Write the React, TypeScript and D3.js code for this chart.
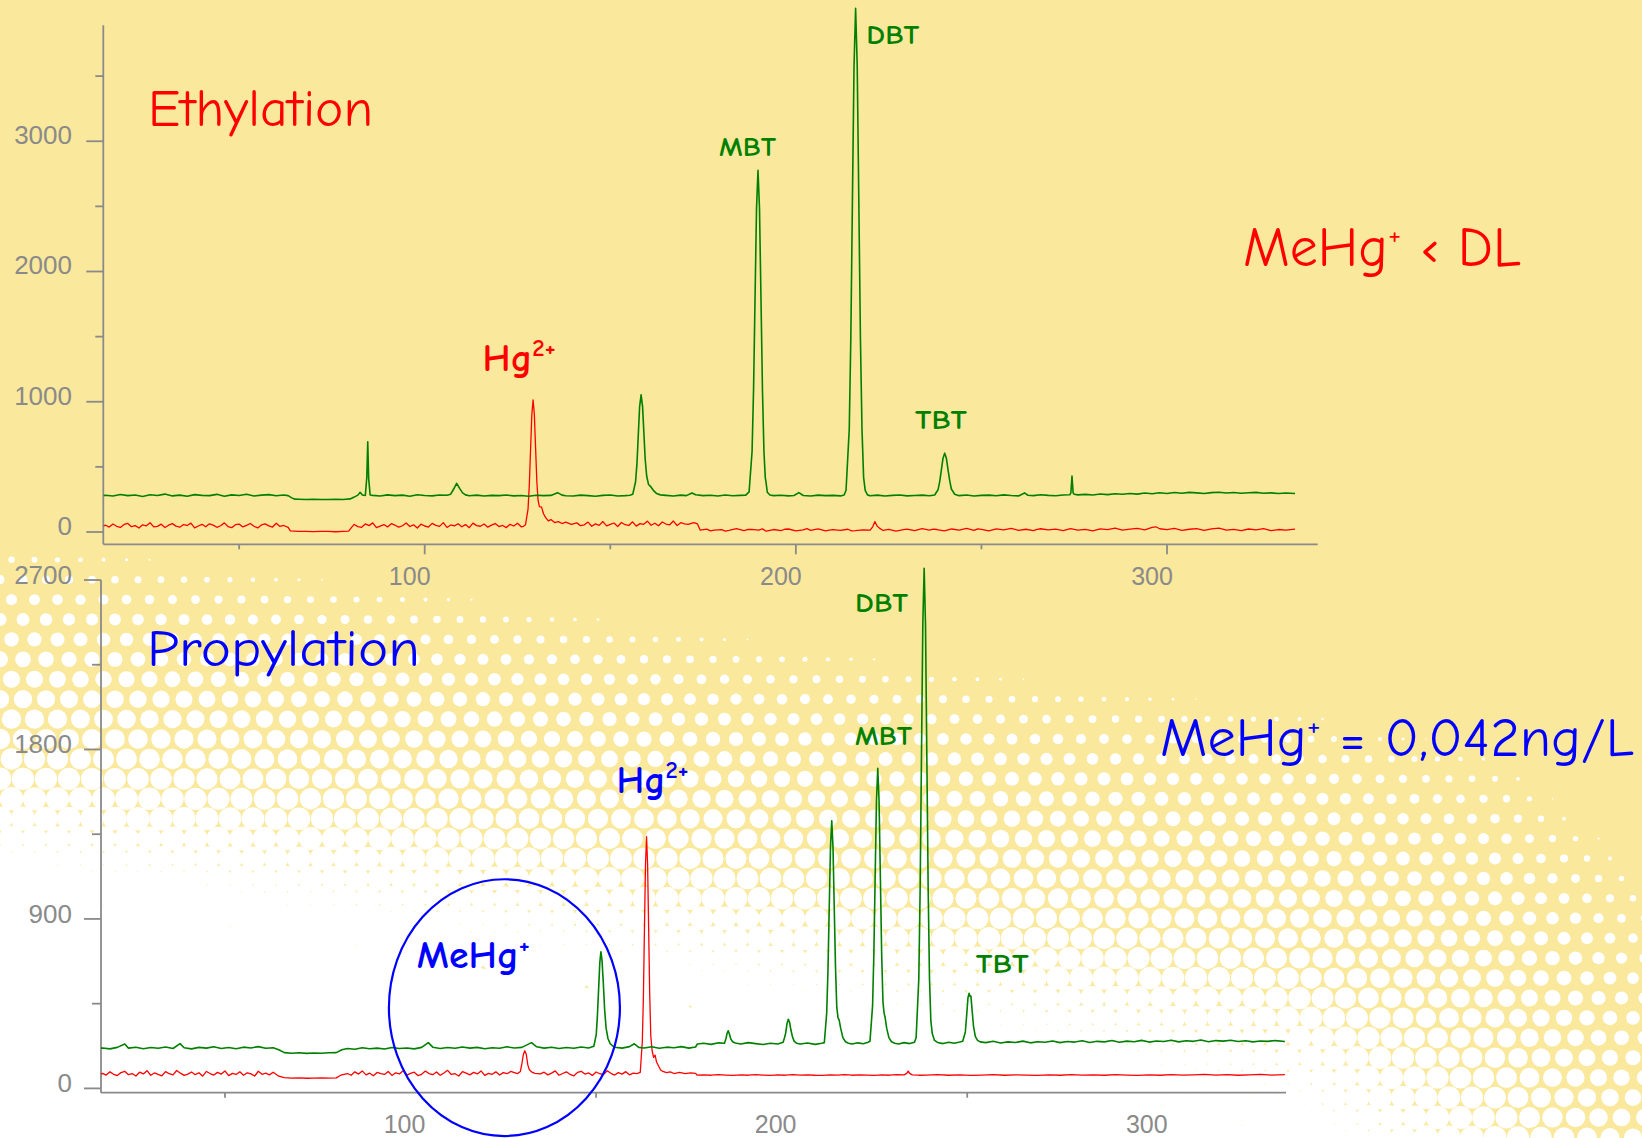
import React from 'react';
import * as d3 from 'd3';

const W = 1642;
const H = 1138;
const YELLOW = '#FAE89C';
const AXIS = '#8a8a8a';
const HAND = "'Comic Sans MS','Comic Neue','Noto Sans',sans-serif";
const SANS = "'Liberation Sans',Arial,sans-serif";

// ---------- Ethylation chromatogram (retention time, counts) ----------
const topGreen: [number, number][] = [
  [13.5,280],[14,282],[16,276],[18,288],[20,279],[22,284],[24,273],[26,286],[28,280],[30,291],[32,277],[34,283],[36,275],[38,287],[40,281],[42,279],[44,289],[46,274],[48,285],[50,280],[52,290],[54,276],[56,283],[58,287],[60,278],[62,284],[63.2,279],[64.2,262],[65,252],[66,251],[68,249],[70,251],[72,249],[74,250],[76,251],[78,250],[79.9,254],[81,268],[82,283],[82.6,305],[83.2,284],[84,281],[84.4,420],[84.65,692],[84.9,410],[85.3,284],[86,281],[88,276],[90,285],[92,279],[94,283],[96,274],[98,286],[100,280],[102,277],[104,284],[106,282],[107,290],[107.8,330],[108.6,374],[109.4,335],[110.2,300],[111,285],[112,278],[114,283],[116,276],[118,281],[120,279],[122,284],[124,277],[126,280],[128,275],[130,282],[132,279],[134,281],[135.8,302],[137,283],[138,278],[140,276],[142,283],[144,279],[146,275],[148,281],[150,284],[152,276],[154,279],[155.3,282],[156.05,289],[156.8,384],[157.2,531],[157.55,749],[157.9,962],[158.3,1053],[158.7,962],[159.05,760],[159.4,560],[159.8,430],[160.3,365],[160.9,348],[161.6,320],[162.5,295],[163.5,285],[165,281],[167,276],[169,283],[170.5,279],[172,300],[173,286],[175,279],[177,282],[179,276],[181,284],[183,278],[185,281],[186.5,283],[187.4,308],[188.2,618],[188.6,1091],[189,1794],[189.4,2484],[189.8,2777],[190.2,2484],[190.6,1794],[191,1091],[191.4,618],[191.75,420],[191.95,385],[192.3,305],[193,284],[194,279],[196,282],[198,277],[199.5,280],[200.8,302],[202,280],[204,276],[206,283],[208,279],[210,281],[212,277],[213,284],[213.52,321],[214.38,786],[214.81,1494],[215.24,2548],[215.67,3580],[216.1,4020],[216.53,3580],[216.96,2548],[217.39,1494],[217.82,786],[218.25,420],[218.68,320],[219.3,285],[220,278],[222,283],[224,276],[226,281],[228,284],[230,277],[232,280],[234,283],[236,278],[237.4,284],[238.3,324],[238.75,385],[239.2,477],[239.65,567],[240.1,605],[240.55,567],[241,477],[241.45,395],[241.9,330],[242.8,290],[244,279],[246,284],[248,276],[250,281],[252,283],[254,278],[256,285],[258,280],[260,277],[261.6,300],[262.5,282],[264,279],[266,286],[268,281],[270,278],[272,284],[273.8,286],[274.1,300],[274.4,430],[274.7,300],[275,290],[276,285],[278,289],[280,284],[282,292],[284,287],[286,294],[288,290],[290,296],[292,291],[294,299],[296,293],[298,301],[300,296],[302,303],[304,298],[306,304],[308,300],[310,296],[312,302],[314,305],[316,299],[318,303],[320,297],[322,301],[324,304],[326,298],[328,300],[330,295],[332,299],[334.5,296],
];

const topRed: [number, number][] = [
  [13.5,47],[14,52],[15,38],[16,61],[17,44],[18,35],[19,58],[20,66],[21,41],[22,49],[23,30],[24,55],[25,47],[26,71],[27,39],[28,43],[29,60],[30,34],[31,52],[32,64],[33,45],[34,37],[35,57],[36,50],[37,68],[38,32],[39,46],[40,59],[41,40],[42,63],[43,53],[44,36],[45,48],[46,70],[47,42],[48,33],[49,56],[50,61],[51,39],[52,51],[53,65],[54,44],[55,31],[56,54],[57,62],[58,47],[59,38],[60,67],[61,43],[62,50],[63.2,35],[63.8,8],[66,4],[68,5],[70,3],[72,5],[74,4],[76,2],[78,4],[79.5,6],[80.3,35],[81,58],[82,41],[83,36],[84,62],[85,49],[86,70],[87,33],[88,45],[89,57],[90,39],[91,64],[92,52],[93,37],[94,48],[95,69],[96,42],[97,55],[98,31],[99,60],[100,46],[101,38],[102,66],[103,51],[104,43],[105,72],[106,35],[107,54],[108,47],[109,63],[110,40],[111,57],[112,33],[113,68],[114,49],[115,44],[116,61],[117,37],[118,53],[119,65],[120,42],[121,50],[122,34],[123,59],[124,46],[125,67],[126,40],[126.6,44],[127.16,56],[127.84,176],[128.18,360],[128.52,633],[128.86,901],[129.2,1014],[129.54,901],[129.88,640],[130.22,380],[130.56,240],[130.9,195],[131.5,190],[132,140],[132.6,110],[133.3,85],[134,95],[135,72],[136,80],[137,65],[138,75],[139.5,58],[141,70],[142,48],[143,55],[144,76],[145,44],[146,62],[147,51],[148,80],[149,47],[150,58],[151,69],[152,42],[153,73],[154,56],[155,50],[156,78],[157,45],[158,64],[159,59],[160,83],[161,52],[162,67],[163,48],[164,77],[165,61],[166,55],[167,84],[168,50],[169,71],[170,63],[171,58],[172.5,72],[173.5,62],[174.2,15],[176,22],[177,9],[178,14],[180,18],[181,7],[182,12],[184,25],[186,10],[187,19],[188,20],[190,14],[191,24],[192,6],[194,19],[196,11],[197,21],[198,23],[200,9],[202,17],[203,26],[204,13],[206,24],[208,8],[209,15],[210,18],[212,12],[214,21],[215,8],[216,10],[218,16],[220,14],[220.7,40],[221.3,80],[221.9,45],[222.5,30],[223.5,12],[225,20],[227,7],[229,18],[230,22],[232,11],[234,25],[236,14],[237,22],[238,19],[240,8],[242,23],[244,15],[246,27],[248,12],[249,24],[250,20],[252,9],[254,24],[256,16],[258,28],[260,13],[262,21],[264,10],[265,20],[266,25],[268,17],[270,22],[272,11],[274,26],[276,15],[278,20],[280,9],[282,24],[284,18],[286,29],[288,14],[290,22],[292,27],[294,16],[296,35],[297,40],[298,25],[300,18],[302,28],[304,13],[306,21],[308,26],[310,12],[312,24],[314,30],[316,15],[318,20],[320,11],[322,23],[324,17],[326,26],[328,10],[330,19],[332,14],[334.5,22],
];

// ---------- Propylation chromatogram ----------
const botGreen: [number, number][] = [
  [16.6,214],[17,215],[19,210],[21,218],[23,236],[24,214],[26,219],[28,211],[30,217],[32,213],[34,220],[36,212],[37.9,238],[39,216],[41,210],[43,218],[45,214],[47,221],[49,212],[51,217],[53,211],[55,219],[57,215],[59,222],[61,213],[63,216],[64.5,205],[66,190],[68,187],[70,189],[72,186],[74,188],[76,187],[78,189],[80,190],[81.5,205],[83,212],[85,208],[87,216],[89,211],[91,214],[93,209],[95,217],[97,212],[99,215],[101,210],[103,218],[104.8,243],[106,219],[108,212],[110,217],[112,213],[114,220],[116,214],[118,218],[120,211],[122,216],[124,213],[126,221],[128,215],[130,218],[132.6,243],[134,221],[136,214],[138,219],[140,212],[142,217],[144,213],[146,220],[148,215],[149.4,224],[150.05,287],[150.35,383],[150.68,526],[151,666],[151.3,726],[151.6,680],[151.95,560],[152.3,420],[152.7,320],[153.2,265],[153.8,238],[154.5,225],[155,219],[157,214],[159,222],[160.3,237],[161.5,218],[163,215],[165,221],[167,213],[169,219],[171,216],[173,222],[175,214],[176.8,220],[177.3,236],[179,240],[181,234],[183,242],[184.6,240],[185,265],[185.3,292],[185.6,306],[185.9,290],[186.3,262],[186.8,248],[187.5,241],[189,236],[191,243],[193,238],[195,233],[197,240],[199,236],[200.4,245],[200.75,268],[201.1,295],[201.45,345],[201.8,367],[202.15,350],[202.5,310],[202.9,275],[203.4,250],[204,240],[205,236],[207,241],[209,234],[210.8,240],[211.5,243],[212.14,400],[212.48,623],[212.82,956],[213.16,1281],[213.5,1421],[213.84,1281],[214.18,956],[214.52,640],[214.86,430],[215.2,375],[215.5,363],[215.9,320],[216.5,270],[217.2,248],[218,240],[219,236],[220.5,242],[222,237],[223.3,245],[223.8,250],[224.5,438],[224.85,714],[225.2,1125],[225.55,1528],[225.9,1700],[226.25,1528],[226.6,1125],[226.95,714],[227.3,460],[227.6,400],[227.9,375],[228.3,320],[228.9,270],[229.6,248],[230.5,240],[231.5,236],[233,243],[234.5,238],[235.8,245],[236.24,270],[236.96,583],[237.32,1060],[237.68,1770],[238.04,2466],[238.4,2762],[238.76,2466],[239.12,1770],[239.48,1060],[239.84,583],[240.2,360],[240.6,290],[241.2,255],[242,244],[243.5,238],[245,245],[246.5,240],[248,246],[248.8,250],[249.5,300],[249.9,400],[250.2,480],[250.5,505],[250.75,490],[251,490],[251.3,420],[251.7,330],[252.2,275],[252.8,255],[253.5,247],[255,243],[257,250],[259,241],[261,247],[263,244],[265,251],[267,242],[269,248],[271,245],[273,252],[275,243],[277,249],[279,246],[281,253],[283,244],[285,250],[287,247],[289,254],[291,245],[293,251],[295,248],[297,255],[299,246],[301,252],[303,249],[305,256],[307,247],[309,253],[311,250],[313,257],[315,248],[317,254],[319,251],[321,256],[323,249],[325,253],[327,247],[329,252],[331,250],[333,254],[335.6,249],
];

const botRed: [number, number][] = [
  [16.6,76],[17,80],[18,71],[19,88],[20,75],[21,68],[22,84],[23,91],[24,73],[25,79],[26,66],[27,86],[28,77],[29,94],[30,70],[31,82],[32,74],[33,67],[34,89],[35,78],[36,72],[37,95],[38,81],[39,69],[40,76],[41,87],[42,73],[43,83],[44,65],[45,90],[46,79],[47,71],[48,85],[49,76],[50,93],[51,68],[52,80],[53,74],[54,88],[55,70],[56,83],[57,77],[58,66],[59,91],[60,75],[61,81],[62,72],[63,86],[64.5,65],[66,57],[68,55],[70,56],[72,54],[74,55],[76,56],[78,55],[80,56],[81.2,70],[83,79],[84,70],[85,88],[86,76],[87,93],[88,72],[89,81],[90,67],[91,85],[92,78],[93,74],[94,90],[95,69],[96,83],[97,77],[98,94],[99,71],[100,80],[101,86],[102,68],[103,75],[104,92],[105,79],[106,73],[107,87],[108,70],[109,82],[110,96],[111,74],[112,78],[113,66],[114,89],[115,81],[116,72],[117,85],[118,77],[119,93],[120,69],[121,80],[122,75],[123,88],[124,71],[125,84],[126,78],[127,90],[128.8,78],[129.6,90],[130,130],[130.4,180],[130.8,200],[131.2,180],[131.6,125],[132,100],[132.6,88],[133.5,80],[135,77],[136,86],[137,72],[138,81],[139,93],[140,70],[141,79],[142,88],[143,74],[144,67],[145,85],[146,91],[147,76],[148,82],[149,69],[150,87],[151,78],[152,73],[153,94],[154,80],[155,71],[156,84],[157,76],[158,89],[159,72],[160,81],[161,79],[161.9,85],[162.46,249],[162.75,487],[163.03,842],[163.32,1190],[163.6,1337],[163.88,1190],[164.17,842],[164.45,500],[164.74,280],[165.1,200],[165.5,165],[165.9,177],[166.3,140],[166.8,120],[167.4,98],[168,90],[169,84],[170,88],[171,79],[172.5,85],[174,78],[175.5,83],[176.8,80],[177.2,71],[179,72],[181,70],[183,73],[185,71],[187,69],[189,72],[191,70],[193,73],[195,71],[197,69],[199,72],[201,70],[203,73],[205,71],[207,72],[209,70],[211,69],[213,72],[215,71],[217,73],[219,70],[221,72],[223,71],[225,69],[227,72],[229,70],[231,73],[233,72],[233.7,80],[234.1,92],[234.5,80],[235.2,72],[237,70],[239,71],[242,73],[245,70],[248,72],[251,69],[254,71],[257,73],[260,70],[263,72],[266,71],[269,69],[272,72],[275,70],[278,73],[281,71],[284,72],[287,70],[290,73],[293,71],[296,69],[299,72],[302,70],[305,73],[308,71],[311,72],[314,74],[317,71],[320,73],[323,70],[326,72],[329,74],[332,71],[335.6,73],
];

// ---------- ticks ----------
const topYTicks = [0, 1000, 2000, 3000];
const topYMinor = [500, 1500, 2500, 3500];
const botYTicks = [0, 900, 1800, 2700];
const botYMinor = [450, 1350, 2250];
const topXTicks = [100, 200, 300];
const topXMinor = [50, 150, 250];
const botXLabels = [100, 200, 300];
const botXMinor = [50, 150, 250];

// ---------- peak annotations (retention time, counts) ----------
const topLabelNames = ['MBT', 'DBT', 'TBT'];
const topLabelT = [179.3, 219.0, 232.1];
const topLabelV = [2888, 3743, 794];
const topLabelW = [57, 53, 52];
const botLabelNames = ['DBT', 'MBT', 'TBT'];
const botLabelT = [219.8, 219.8, 252.3];
const botLabelV = [2532, 1823, 614];
const botLabelW = [53, 57, 53];
const topHgLabel = { t: 115.6, v: 1239 };
const botHgLabel = { t: 155.5, v: 1567 };
const botMeHgLabel = { t: 101.7, v: 638 };
const meHgCircle = { t: 125.3, v: 429 };

export default function App() {
  const xTop = d3.scaleLinear().domain([13.4, 340.6]).range([103.3, 1317.7]);
  const yTop = d3.scaleLinear().domain([-94.5, 3891]).range([544.3, 25.2]);
  const xBot = d3.scaleLinear().domain([16.6, 335.9]).range([101, 1286]);
  const yBot = d3.scaleLinear().domain([-22.8, 2700]).range([1092.7, 580]);

  const lineTop = d3.line<[number, number]>().x((d) => xTop(d[0])).y((d) => yTop(d[1]));
  const lineBot = d3.line<[number, number]>().x((d) => xBot(d[0])).y((d) => yBot(d[1]));

  // halftone decoration of the slide background: white dots growing until they cover the yellow
  const bandCenter = d3.scaleLinear().domain([0, 400, 1000, 1300, 1500, 1642]).range([715, 770, 870, 925, 1030, 1190]);
  const bandHalf = d3.scaleLinear().domain([0, 1000, 1300, 1642]).range([175, 195, 215, 320]);
  const DX = 23;
  const DY = (DX * Math.sqrt(3)) / 2;
  const RC = DX / Math.sqrt(3) + 0.4;
  const whiteArea = d3.area<number>().x((d) => d).y0((d) => bandCenter(d) + bandHalf(d)).y1(H + 5)(d3.range(0, W + 21, 10)) || '';
  const dots: { x: number; y: number; r: number }[] = [];
  for (let row = 0, y = 500; y < H + 20; row++, y += DY) {
    for (let x = (row % 2) * (DX / 2); x < W + 12; x += DX) {
      const t = (y - bandCenter(x)) / bandHalf(x);
      if (t <= -1 || t >= 1.05) continue;
      const f = Math.min(1, (1 + t) / 2);
      dots.push({ x, y, r: RC * Math.sqrt(f) });
    }
  }

  const topLeft = xTop.range()[0];
  const botLeft = xBot.range()[0];

  return (
    <svg width={W} height={H} style={{ position: 'absolute', left: 0, top: 0, display: 'block' }}>
      <rect x={0} y={0} width={W} height={H} fill={YELLOW} />
      <path d={whiteArea} fill="#ffffff" />
      <g fill="#ffffff">
        {dots.map((d, i) => (
          <circle key={i} cx={d.x} cy={d.y} r={d.r} />
        ))}
      </g>

      {/* ---------- top chart axes ---------- */}
      <g stroke={AXIS} strokeWidth={1.8} fill="none">
        <line x1={topLeft} y1={yTop.range()[1]} x2={topLeft} y2={yTop.range()[0]} />
        <line x1={topLeft} y1={yTop.range()[0]} x2={xTop.range()[1]} y2={yTop.range()[0]} />
        {topYTicks.map((v) => (
          <line key={'tyt' + v} x1={topLeft - 17} x2={topLeft} y1={yTop(v)} y2={yTop(v)} />
        ))}
        {topYMinor.map((v) => (
          <line key={'tym' + v} x1={topLeft - 8} x2={topLeft} y1={yTop(v)} y2={yTop(v)} />
        ))}
        {topXTicks.map((v) => (
          <line key={'txt' + v} x1={xTop(v)} x2={xTop(v)} y1={yTop.range()[0]} y2={yTop.range()[0] + 10} />
        ))}
        {topXMinor.map((v) => (
          <line key={'txm' + v} x1={xTop(v)} x2={xTop(v)} y1={yTop.range()[0]} y2={yTop.range()[0] + 5} />
        ))}
      </g>
      <g fill={AXIS} fontFamily={SANS} fontSize={26}>
        {topYTicks.map((v) => (
          <text key={'tyl' + v} x={72} y={yTop(v) + 3} textAnchor="end">{v}</text>
        ))}
        {topXTicks.map((v) => (
          <text key={'txl' + v} x={xTop(v) - 15} y={585} textAnchor="middle" fontSize={25}>{v}</text>
        ))}
      </g>

      {/* ---------- bottom chart axes ---------- */}
      <g stroke={AXIS} strokeWidth={1.8} fill="none">
        <line x1={botLeft} y1={yBot.range()[1]} x2={botLeft} y2={yBot.range()[0]} />
        <line x1={botLeft} y1={yBot.range()[0]} x2={xBot.range()[1]} y2={yBot.range()[0]} />
        {botYTicks.map((v) => (
          <line key={'byt' + v} x1={botLeft - 17} x2={botLeft} y1={yBot(v)} y2={yBot(v)} />
        ))}
        {botYMinor.map((v) => (
          <line key={'bym' + v} x1={botLeft - 9} x2={botLeft} y1={yBot(v)} y2={yBot(v)} />
        ))}
        {botXMinor.map((v) => (
          <line key={'bxm' + v} x1={xBot(v)} x2={xBot(v)} y1={yBot.range()[0]} y2={yBot.range()[0] + 5} />
        ))}
      </g>
      <g fill={AXIS} fontFamily={SANS} fontSize={26}>
        {botYTicks.map((v) => (
          <text key={'byl' + v} x={72} y={yBot(v) + 4} textAnchor="end">{v}</text>
        ))}
        {botXLabels.map((v) => (
          <text key={'bxl' + v} x={xBot(v) - 6} y={1133} textAnchor="middle" fontSize={25}>{v}</text>
        ))}
      </g>

      {/* ---------- traces ---------- */}
      <path d={lineTop(topRed) || ''} fill="none" stroke="#ff0000" strokeWidth={1.3} strokeLinejoin="round" />
      <path d={lineTop(topGreen) || ''} fill="none" stroke="#008000" strokeWidth={1.6} strokeLinejoin="round" />
      <path d={lineBot(botRed) || ''} fill="none" stroke="#ff0000" strokeWidth={1.3} strokeLinejoin="round" />
      <path d={lineBot(botGreen) || ''} fill="none" stroke="#008000" strokeWidth={1.6} strokeLinejoin="round" />

      {/* ---------- circle around MeHg+ ---------- */}
      <ellipse cx={xBot(meHgCircle.t)} cy={yBot(meHgCircle.v)} rx={115.5} ry={128.4} fill="none" stroke="#0000ff" strokeWidth={2.2} />

      {/* ---------- peak labels ---------- */}
      <g fontFamily={HAND} fontWeight="bold" fontSize={26} fill="#008000">
        {topLabelNames.map((n, i) => (
          <text key={'tl' + n} x={xTop(topLabelT[i])} y={yTop(topLabelV[i])} textLength={topLabelW[i]} lengthAdjust="spacingAndGlyphs">{n}</text>
        ))}
        {botLabelNames.map((n, i) => (
          <text key={'bl' + n} x={xBot(botLabelT[i])} y={yBot(botLabelV[i])} textLength={botLabelW[i]} lengthAdjust="spacingAndGlyphs">{n}</text>
        ))}
      </g>
      <text x={xTop(topHgLabel.t)} y={yTop(topHgLabel.v)} fontFamily={HAND} fontWeight="bold" fontSize={38} fill="#ff0000" textLength={73} lengthAdjust="spacingAndGlyphs">
        Hg<tspan fontSize={24} dy={-15}>2+</tspan>
      </text>
      <text x={xBot(botHgLabel.t)} y={yBot(botHgLabel.v)} fontFamily={HAND} fontWeight="bold" fontSize={38} fill="#0000ff" textLength={72} lengthAdjust="spacingAndGlyphs">
        Hg<tspan fontSize={24} dy={-15}>2+</tspan>
      </text>
      <text x={xBot(botMeHgLabel.t)} y={yBot(botMeHgLabel.v)} fontFamily={HAND} fontWeight="bold" fontSize={38} fill="#0000ff" textLength={113} lengthAdjust="spacingAndGlyphs">
        MeHg<tspan fontSize={24} dy={-15}>+</tspan>
      </text>

      {/* ---------- slide titles ---------- */}
      <text x={148} y={126} fontFamily={HAND} fontSize={52} fill="#ff0000" textLength={225} lengthAdjust="spacingAndGlyphs">Ethylation</text>
      <text x={147} y={666} fontFamily={HAND} fontSize={52} fill="#0000ff" textLength={273} lengthAdjust="spacingAndGlyphs">Propylation</text>
      <text x={1243} y={266} fontFamily={HAND} fontSize={56} fill="#ff0000" textLength={278} lengthAdjust="spacingAndGlyphs">
        MeHg<tspan fontSize={30} dy={-22}>+</tspan><tspan dy={22}>{' ‹ DL'}</tspan>
      </text>
      <text x={1160} y={756} fontFamily={HAND} fontSize={54} fill="#0000ff" textLength={474} lengthAdjust="spacingAndGlyphs">
        MeHg<tspan fontSize={30} dy={-21}>+</tspan><tspan dy={21}>{' = 0,042ng/L'}</tspan>
      </text>
    </svg>
  );
}
